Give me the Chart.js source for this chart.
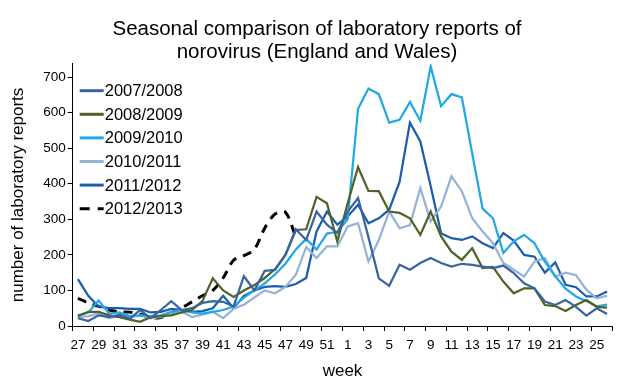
<!DOCTYPE html>
<html>
<head>
<meta charset="utf-8">
<script src="https://cdn.jsdelivr.net/npm/chart.js@4.4.1/dist/chart.umd.min.js"></script>
<style>
html,body{margin:0;padding:0;background:#fff;}
#wrap{width:634px;height:390px;}
</style>
</head>
<body>
<div id="wrap"><canvas id="c" width="634" height="390"></canvas></div>
<script>
const weeks = ['27','28','29','30','31','32','33','34','35','36','37','38','39','40','41','42','43','44','45','46','47','48','49','50','51','52',
               '1','2','3','4','5','6','7','8','9','10','11','12','13','14','15','16','17','18','19','20','21','22','23','24','25','26'];

const seriesNames = ['2007/2008','2008/2009','2009/2010','2010/2011','2011/2012','2012/2013'];

const s0708 = [22,14,30,25,32,20,45,22,45,70,45,50,65,70,68,55,140,100,155,158,200,272,242,322,285,262,
               322,360,250,134,113,172,158,177,191,177,167,175,172,167,163,170,149,120,106,69,59,73,54,29,50,34];
const s0809 = [28,40,40,30,25,18,12,25,28,30,38,45,70,134,100,82,100,115,135,160,200,270,272,363,345,238,
               345,447,380,379,322,318,303,256,322,252,209,186,219,163,166,125,92,106,106,59,56,42,59,73,54,52];
const s0910 = [30,38,72,35,38,28,30,28,30,40,45,38,35,40,45,55,80,100,120,145,175,215,245,215,260,265,
               300,611,668,652,572,580,630,577,730,618,652,643,485,330,303,205,238,256,233,181,140,105,83,70,55,60];
const s1011 = [25,28,35,22,28,25,30,22,25,35,40,25,32,40,22,48,60,80,100,92,110,144,222,191,224,224,
               280,289,181,242,322,275,284,388,294,336,421,379,303,266,233,177,158,139,181,191,139,150,143,102,78,85];
const s1112 = [132,85,55,50,50,48,48,38,40,48,45,40,42,50,85,50,85,100,110,112,110,118,135,266,322,285,
               308,341,289,303,327,405,572,519,393,261,247,242,252,233,219,261,240,200,195,150,179,116,109,83,83,97];
const s1213 = [78,65,55,45,40,39,33,23,24,37,51,68,85,100,135,185,198,215,275,315,320,250,null,null,null,null,
               null,null,null,null,null,null,null,null,null,null,null,null,null,null,null,null,null,null,null,null,null,null,null,null,null,null];

const yTickMax = 700;
const FONT = '"Liberation Sans", Arial, Helvetica, sans-serif';

const legendPlugin = {
  id: 'insideLegend',
  afterDatasetsDraw(chart) {
    const ctx = chart.ctx;
    const x0 = chart.chartArea.left + 7;
    chart.data.datasets.forEach((ds, i) => {
      const y = 90.7 + i * 23.6;
      ctx.save();
      ctx.strokeStyle = ds.borderColor;
      ctx.lineWidth = 3;
      ctx.setLineDash(ds.borderDash ? [10, 8] : []);
      ctx.beginPath();
      ctx.moveTo(x0, y);
      ctx.lineTo(x0 + 24, y);
      ctx.stroke();
      ctx.setLineDash([]);
      ctx.fillStyle = '#000';
      ctx.font = '16.5px ' + FONT;
      ctx.textBaseline = 'middle';
      ctx.textAlign = 'left';
      ctx.fillText(ds.label, x0 + 25, y + 1);
      ctx.restore();
    });
  }
};

const colors = ['#3A64A0', '#4F6228', '#22A8E2', '#95B3D7', '#1D5EAC', '#000000'];
const values = [s0708, s0809, s0910, s1011, s1112, s1213];

const datasets = seriesNames.map((name, i) => ({
  label: name,
  data: values[i],
  borderColor: colors[i],
  backgroundColor: colors[i],
  borderWidth: i === 5 ? 3 : 2.25,
  borderDash: i === 5 ? [9, 7] : undefined,
  tension: i === 5 ? 0.3 : 0,
  pointRadius: 0,
  fill: false,
  spanGaps: false
}));

new Chart(document.getElementById('c'), {
  type: 'line',
  data: { labels: weeks, datasets: datasets },
  plugins: [legendPlugin],
  options: {
    responsive: false,
    animation: false,
    devicePixelRatio: 1,
    layout: { padding: { left: 0, right: 0, top: 0, bottom: 0 } },
    plugins: {
      legend: { display: false },
      tooltip: { enabled: false },
      title: {
        display: true,
        text: ['Seasonal comparison of laboratory reports of', 'norovirus (England and Wales)'],
        color: '#000',
        font: { family: FONT, size: 20.5, weight: 'normal', lineHeight: 1.12 },
        padding: { top: 18, bottom: 0 }
      }
    },
    scales: {
      x: {
        type: 'category',
        offset: true,
        grid: {
          display: true,
          drawOnChartArea: false,
          drawTicks: true,
          tickLength: 5,
          offset: true,
          tickColor: (ctx) => (ctx.index === undefined || ctx.index % 2 === 0) ? '#000' : 'rgba(0,0,0,0)'
        },
        border: { display: true, color: '#000', width: 1 },
        ticks: {
          autoSkip: false,
          maxRotation: 0,
          minRotation: 0,
          padding: 6,
          color: '#000',
          font: { family: FONT, size: 13.5 },
          callback: (v, i) => (i % 2 === 0 ? weeks[i] : '')
        },
        title: {
          display: true,
          text: 'week',
          color: '#000',
          font: { family: FONT, size: 17 },
          padding: { top: 0, bottom: 8 }
        },
        afterFit: (s) => { s.height = 64; }
      },
      y: {
        min: 0,
        max: 737,
        ticks: { stepSize: 100, includeBounds: false, padding: 2, color: '#000', font: { family: FONT, size: 13.5 } },
        afterBuildTicks: (a) => { a.ticks = a.ticks.filter(t => t.value <= yTickMax); },
        grid: { display: true, drawOnChartArea: false, drawTicks: true, tickLength: 5, tickColor: '#000' },
        border: { display: true, color: '#000', width: 1 },
        title: {
          display: true,
          text: 'number of laboratory reports',
          color: '#000',
          font: { family: FONT, size: 17 },
          padding: { top: 8, bottom: 0 }
        },
        afterFit: (s) => { s.width = 72.7; }
      },
      yRightSpace: {
        position: 'right',
        display: true,
        grid: { display: false, drawTicks: false },
        border: { display: false },
        ticks: { display: false },
        afterFit: (s) => { s.width = 21.7; }
      }
    }
  }
});
</script>
</body>
</html>
